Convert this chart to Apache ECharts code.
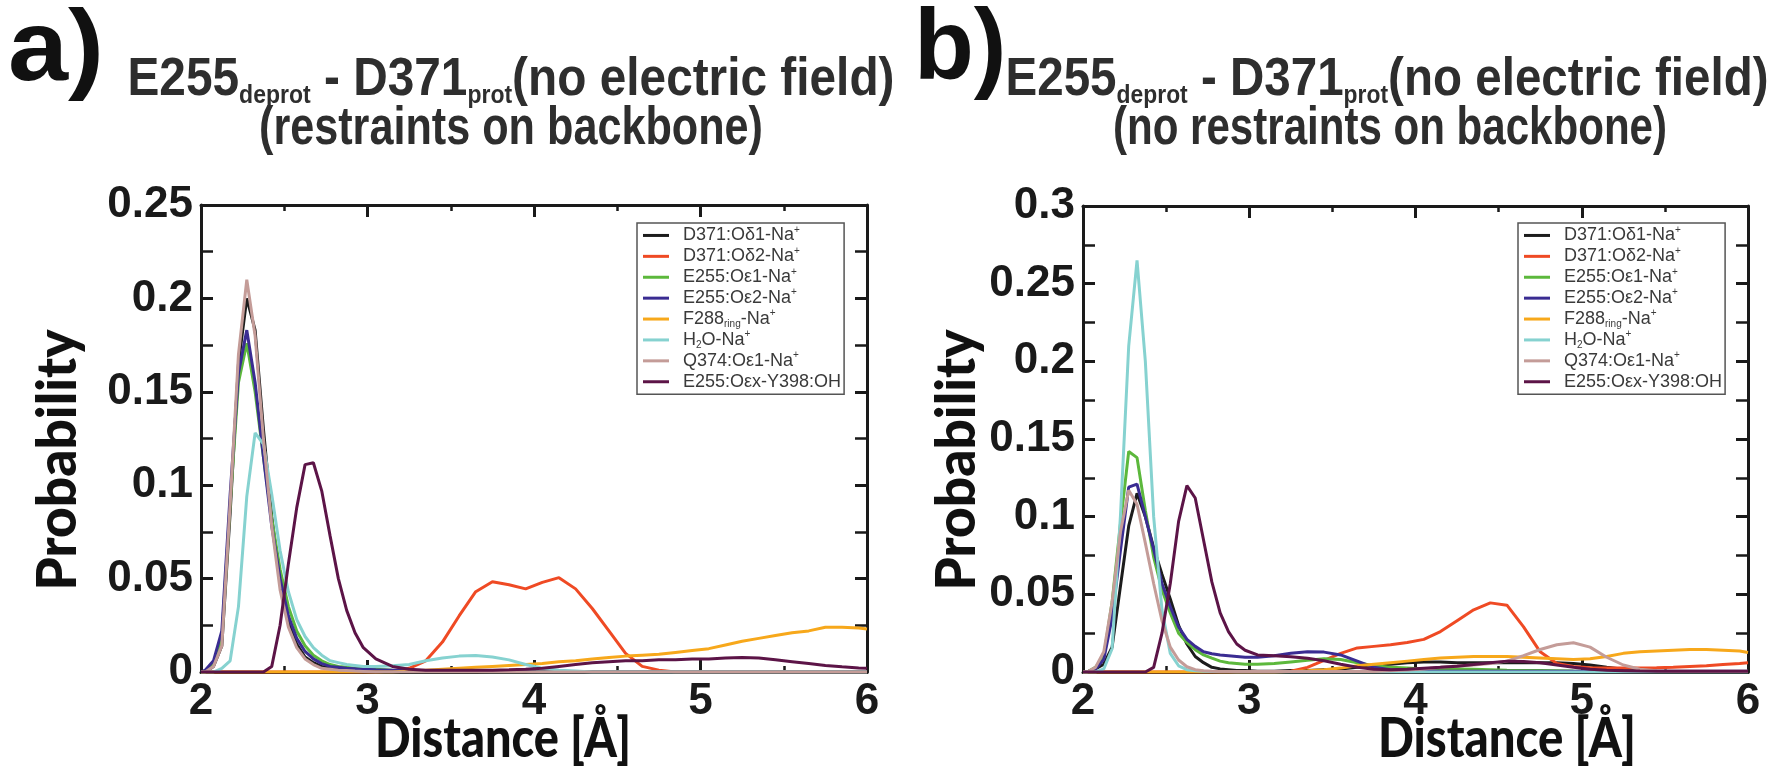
<!DOCTYPE html>
<html>
<head>
<meta charset="utf-8">
<script src="https://cdn.jsdelivr.net/npm/echarts/dist/echarts.min.js"></script>
<style>
  html, body { margin: 0; padding: 0; background: #ffffff; }
  #chart { width: 1781px; height: 776px; }
</style>
</head>
<body>
<div id="chart"></div>
<script>
// ---------------- data ----------------
const xs = [2.0, 2.025, 2.075, 2.125, 2.175, 2.225, 2.275, 2.325, 2.375, 2.425, 2.475, 2.525, 2.575, 2.625, 2.675, 2.725, 2.775, 2.825, 2.875, 2.925, 2.975,
  3.05, 3.15, 3.25, 3.35, 3.45, 3.55, 3.65, 3.75, 3.85, 3.95, 4.05, 4.15, 4.25, 4.35, 4.45, 4.55, 4.65, 4.75, 4.85, 4.95,
  5.05, 5.15, 5.25, 5.35, 5.45, 5.55, 5.65, 5.75, 5.85, 5.95, 6.0];

const seriesNames = ['D371:Oδ1-Na+', 'D371:Oδ2-Na+', 'E255:Oε1-Na+', 'E255:Oε2-Na+', 'F288ring-Na+', 'H2O-Na+', 'Q374:Oε1-Na+', 'E255:Oεx-Y398:OH'];
const legendLabels = ['D371:Oδ1-Na{sup|+}', 'D371:Oδ2-Na{sup|+}', 'E255:Oε1-Na{sup|+}', 'E255:Oε2-Na{sup|+}', 'F288{sub|ring}-Na{sup|+}', 'H{sub|2}O-Na{sup|+}', 'Q374:Oε1-Na{sup|+}', 'E255:Oεx-Y398:OH'];
const seriesColors = ['#1c1c1c', '#ef4a24', '#5cb83c', '#3a2c92', '#f7a81b', '#86d2d0', '#c49c98', '#5c1447'];

const yMaxA = 0.25, yMaxB = 0.3;

// panel a (restraints on backbone)
const aBlack = [0, 0, 0.003, 0.014, 0.085, 0.165, 0.2, 0.183, 0.13, 0.083, 0.048, 0.027, 0.015, 0.008, 0.005, 0.003, 0.002, 0.0015, 0.001, 0.0008, 0.0005,
  0.0004, 0.0003, 0.0003, 0.0002, 0.0002, 0.0002, 0.0001, 0.0001, 0.0001, 0.0001, 0, 0, 0, 0, 0, 0, 0, 0, 0, 0, 0, 0, 0, 0, 0, 0, 0, 0, 0, 0, 0];
const aRed = [0, 0, 0, 0, 0, 0, 0, 0, 0, 0, 0, 0, 0, 0, 0, 0, 0, 0, 0, 0, 0,
  0, 0.0005, 0.002, 0.006, 0.016, 0.03, 0.043, 0.0483, 0.0467, 0.0445, 0.048, 0.0505, 0.0445, 0.034, 0.022, 0.01, 0.003, 0.001, 0, 0, 0, 0, 0, 0, 0, 0, 0, 0, 0, 0, 0];
const aGreen = [0, 0, 0.004, 0.018, 0.09, 0.155, 0.176, 0.15, 0.115, 0.082, 0.055, 0.035, 0.022, 0.014, 0.009, 0.006, 0.004, 0.003, 0.0025, 0.002, 0.0018,
  0.0015, 0.001, 0.0008, 0.0006, 0.0005, 0.0004, 0.0003, 0.0002, 0.0002, 0.0001, 0, 0, 0, 0, 0, 0, 0, 0, 0, 0, 0, 0, 0, 0, 0, 0, 0, 0, 0, 0, 0];
const aBlue = [0, 0.001, 0.006, 0.022, 0.095, 0.16, 0.183, 0.155, 0.115, 0.078, 0.05, 0.03, 0.018, 0.011, 0.007, 0.0045, 0.003, 0.0025, 0.002, 0.0018, 0.0015,
  0.0012, 0.001, 0.001, 0.0008, 0.0006, 0.0004, 0.0003, 0.0002, 0.0001, 0.0001, 0, 0, 0, 0, 0, 0, 0, 0, 0, 0, 0, 0, 0, 0, 0, 0, 0, 0, 0, 0, 0];
const aOrange = [0, 0, 0, 0, 0, 0, 0, 0, 0, 0, 0, 0, 0, 0, 0, 0, 0, 0, 0, 0, 0,
  0, 0, 0.0005, 0.001, 0.0015, 0.002, 0.0025, 0.003, 0.0035, 0.004, 0.0045, 0.0055, 0.006, 0.007, 0.0078, 0.0085, 0.009, 0.0095, 0.0105, 0.0115,
  0.0125, 0.0145, 0.0165, 0.018, 0.0195, 0.021, 0.022, 0.024, 0.024, 0.0235, 0.023];
const aCyan = [0, 0, 0, 0.002, 0.006, 0.035, 0.094, 0.128, 0.122, 0.095, 0.065, 0.043, 0.028, 0.019, 0.013, 0.009, 0.006, 0.005, 0.004, 0.0035, 0.003,
  0.003, 0.0033, 0.004, 0.006, 0.0075, 0.0085, 0.0088, 0.008, 0.0065, 0.004, 0.002, 0.001, 0.0005, 0, 0, 0, 0, 0, 0, 0, 0, 0, 0, 0, 0, 0, 0, 0, 0, 0, 0];
const aBrown = [0, 0, 0.003, 0.014, 0.09, 0.17, 0.21, 0.18, 0.125, 0.078, 0.044, 0.024, 0.013, 0.007, 0.004, 0.002, 0.0015, 0.001, 0.0008, 0.0005, 0.0003,
  0, 0, 0, 0, 0, 0, 0, 0, 0, 0, 0, 0, 0, 0, 0, 0, 0, 0, 0, 0, 0, 0, 0, 0, 0, 0, 0, 0, 0, 0, 0];
const aPurple = [0, 0, 0, 0, 0, 0, 0, 0, 0, 0.003, 0.025, 0.058, 0.088, 0.111, 0.112, 0.097, 0.073, 0.05, 0.033, 0.021, 0.013,
  0.007, 0.003, 0.0015, 0.001, 0.001, 0.001, 0.001, 0.001, 0.0012, 0.0015, 0.002, 0.003, 0.004, 0.005, 0.0055, 0.006, 0.006, 0.0065, 0.0065, 0.007,
  0.007, 0.0075, 0.0077, 0.0075, 0.0065, 0.0055, 0.0045, 0.0035, 0.0028, 0.0022, 0.002];

// panel b (no restraints on backbone)
const bBlack = [0, 0, 0.002, 0.005, 0.016, 0.055, 0.094, 0.115, 0.1, 0.08, 0.063, 0.047, 0.03, 0.018, 0.01, 0.006, 0.003, 0.002, 0.0015, 0.001, 0.001,
  0.0005, 0.0005, 0.001, 0.001, 0.0015, 0.002, 0.003, 0.004, 0.005, 0.006, 0.0065, 0.0065, 0.006, 0.006, 0.006, 0.006, 0.006, 0.006, 0.006, 0.0055,
  0.0045, 0.003, 0.0018, 0.001, 0.0005, 0.0003, 0.0003, 0.0003, 0.0003, 0.0003, 0.0003];
const bRed = [0, 0, 0, 0, 0, 0, 0, 0, 0, 0, 0, 0, 0, 0, 0, 0, 0, 0, 0, 0, 0,
  0, 0, 0.0005, 0.003, 0.0075, 0.012, 0.0155, 0.0165, 0.0175, 0.019, 0.021, 0.026, 0.033, 0.04, 0.0445, 0.043, 0.029, 0.013, 0.0055, 0.0035,
  0.0028, 0.0025, 0.0025, 0.0025, 0.0027, 0.003, 0.0035, 0.004, 0.0048, 0.0055, 0.006];
const bGreen = [0, 0, 0.003, 0.01, 0.045, 0.095, 0.142, 0.138, 0.104, 0.074, 0.053, 0.038, 0.025, 0.019, 0.0144, 0.011, 0.0089, 0.007, 0.006, 0.0055, 0.005,
  0.005, 0.0055, 0.0065, 0.0075, 0.0085, 0.008, 0.006, 0.004, 0.003, 0.0025, 0.002, 0.002, 0.002, 0.0018, 0.0015, 0.0012, 0.001, 0.001, 0.0008, 0.0006,
  0.0005, 0.0003, 0.0003, 0.0003, 0.0003, 0.0003, 0.0003, 0.0003, 0.0003, 0.0003, 0.0003];
const bBlue = [0, 0, 0.002, 0.008, 0.035, 0.078, 0.119, 0.121, 0.1, 0.079, 0.057, 0.042, 0.029, 0.021, 0.0165, 0.013, 0.0118, 0.011, 0.0105, 0.01, 0.0095,
  0.0095, 0.0105, 0.012, 0.013, 0.0128, 0.011, 0.007, 0.003, 0.0015, 0.001, 0.0008, 0.0005, 0.0005, 0.0005, 0.0005, 0.0005, 0.0005, 0.0005, 0.0005, 0.0005,
  0.0005, 0.0005, 0.0005, 0.0005, 0.0005, 0.0005, 0.0005, 0.0005, 0.0005, 0.0005, 0.0005];
const bOrange = [0, 0, 0, 0, 0, 0, 0, 0, 0, 0, 0, 0, 0, 0, 0, 0, 0, 0, 0, 0, 0,
  0, 0, 0.0003, 0.0008, 0.0015, 0.0025, 0.004, 0.005, 0.006, 0.007, 0.008, 0.009, 0.0095, 0.01, 0.01, 0.01, 0.0095, 0.009, 0.0085, 0.008,
  0.0085, 0.01, 0.012, 0.013, 0.0135, 0.014, 0.0145, 0.0145, 0.014, 0.0135, 0.0125];
const bCyan = [0, 0, 0, 0.002, 0.015, 0.1, 0.21, 0.265, 0.2, 0.1, 0.04, 0.012, 0.004, 0.0015, 0.0008, 0.0005, 0.0003, 0.0002, 0.0001, 0, 0,
  0, 0, 0, 0, 0, 0, 0, 0, 0, 0, 0, 0, 0, 0, 0, 0, 0, 0, 0, 0, 0, 0, 0, 0, 0, 0, 0, 0, 0, 0, 0];
const bBrown = [0, 0, 0.003, 0.013, 0.045, 0.09, 0.117, 0.108, 0.083, 0.057, 0.033, 0.016, 0.0077, 0.0034, 0.0015, 0.0008, 0.0005, 0.0003, 0.0003, 0.0003, 0.0003,
  0.0003, 0.0003, 0.0003, 0.0003, 0.0003, 0.0003, 0.0003, 0.0003, 0.0008, 0.0013, 0.002, 0.003, 0.0038, 0.0045, 0.0055, 0.007, 0.0105, 0.0145, 0.0175, 0.0188,
  0.016, 0.0095, 0.0045, 0.0018, 0.0008, 0.0005, 0.0005, 0.0005, 0.0005, 0.0005, 0.0005];
const bPurple = [0, 0, 0, 0, 0, 0, 0, 0, 0, 0.003, 0.025, 0.057, 0.097, 0.12, 0.112, 0.085, 0.058, 0.038, 0.026, 0.018, 0.014,
  0.011, 0.0105, 0.0098, 0.0088, 0.0072, 0.005, 0.003, 0.0018, 0.0014, 0.0018, 0.0024, 0.003, 0.0037, 0.0048, 0.006, 0.007, 0.0068, 0.006, 0.0045, 0.003,
  0.0018, 0.0012, 0.0008, 0.0006, 0.0005, 0.0005, 0.0005, 0.0005, 0.0005, 0.0005, 0.0005];

const panelA = [aBlack, aRed, aGreen, aBlue, aOrange, aCyan, aBrown, aPurple];
const panelB = [bBlack, bRed, bGreen, bBlue, bOrange, bCyan, bBrown, bPurple];

// ---------------- chart ----------------
const chart = echarts.init(document.getElementById('chart'), null, { renderer: 'canvas' });

const mctx = document.createElement('canvas').getContext('2d');
function tw(text, font) { mctx.font = font; return mctx.measureText(text).width; }

const AX = '#1a1a1a';
const tickFont = { fontFamily: '"Liberation Sans", Arial, sans-serif', fontWeight: 'bold', fontSize: 44, color: '#1a1a1a' };

function xAxisFor(grid, pos, showLabel) {
  return {
    type: 'value', gridIndex: grid, position: pos, min: 2, max: 6, interval: 1,
    axisLine: { show: true, onZero: false, lineStyle: { color: AX, width: 3 } },
    axisTick: { show: true, inside: true, length: 12, lineStyle: { color: AX, width: 3 } },
    minorTick: { show: true, splitNumber: 2, length: 6, lineStyle: { color: AX, width: 2.5 } },
    splitLine: { show: false },
    axisLabel: Object.assign({ show: showLabel, margin: 8 }, tickFont)
  };
}
function yAxisFor(grid, pos, max, showLabel) {
  return {
    type: 'value', gridIndex: grid, position: pos, min: 0, max: max, interval: 0.05,
    axisLine: { show: true, onZero: false, lineStyle: { color: AX, width: 3 } },
    axisTick: { show: true, inside: true, length: 12, lineStyle: { color: AX, width: 3 } },
    minorTick: { show: true, splitNumber: 2, length: 12, lineStyle: { color: AX, width: 2.5 } },
    splitLine: { show: false },
    axisLabel: Object.assign({ show: showLabel, margin: 8 }, tickFont)
  };
}

const series = [];
[panelA, panelB].forEach((panel, p) => {
  panel.forEach((vals, i) => {
    series.push({
      type: 'line', name: seriesNames[i],
      xAxisIndex: p * 2, yAxisIndex: p * 2,
      data: xs.map((x, k) => [x, vals[k]]),
      symbol: 'none', showSymbol: false,
      lineStyle: { color: seriesColors[i], width: 3 },
      itemStyle: { color: seriesColors[i] },
      z: 2 + i
    });
  });
});

const legendBase = {
  orient: 'vertical', icon: 'rect', itemWidth: 26, itemHeight: 3, itemGap: 0,
  padding: [2, 3, 2, 6],
  borderColor: '#555', borderWidth: 1.5, backgroundColor: '#fff',
  data: seriesNames,
  formatter: (name) => '{g| }' + legendLabels[seriesNames.indexOf(name)],
  textStyle: {
    fontFamily: '"Liberation Sans", Arial, sans-serif', fontSize: 18, color: '#3a3a3a', lineHeight: 20.9,
    rich: {
      g: { width: 9, fontSize: 18, lineHeight: 20.9 },
      sup: { fontSize: 10, verticalAlign: 'top', lineHeight: 10 },
      sub: { fontSize: 10, verticalAlign: 'bottom', lineHeight: 10 }
    }
  },
  selectedMode: false
};

// ---- titles (condensed bold, fitted to the reference widths) ----
const TF = '"Liberation Sans", Arial, sans-serif';
const mainSize = 54, subSize = 26;
const mainFont = 'bold ' + mainSize + 'px ' + TF, subFont = 'bold ' + subSize + 'px ' + TF;
const titleRich = {
  m: { fontFamily: TF, fontWeight: 'bold', fontSize: mainSize, lineHeight: 58, fill: '#2e2e2e' },
  s: { fontFamily: TF, fontWeight: 'bold', fontSize: subSize, lineHeight: 22, verticalAlign: 'bottom', fill: '#2e2e2e' }
};
function titleText(x, y, parts, targetW) {
  let w = 0, txt = '';
  parts.forEach(([k, t]) => { w += tw(t, k === 'm' ? mainFont : subFont); txt += '{' + k + '|' + t + '}'; });
  return { type: 'text', x: x, y: y, scaleX: targetW / w,
    style: { text: txt, rich: titleRich, align: 'center', verticalAlign: 'middle', fill: '#2e2e2e' } };
}
function fitText(x, y, text, font, targetW, rot) {
  return { type: 'text', x: x, y: y, rotation: rot || 0, scaleX: targetW / tw(text, font),
    style: { text: text, font: font, fill: '#111', align: 'center', verticalAlign: 'middle' } };
}
function panelText(x, y, text, sx) {
  return { type: 'text', x: x, y: y, scaleX: sx,
    style: { text: text, font: 'bold 100px ' + TF, fill: '#111', align: 'left', verticalAlign: 'middle' } };
}
const line1 = [['m', 'E255'], ['s', 'deprot'], ['m', ' - D371'], ['s', 'prot'], ['m', '(no electric field)']];
const probFont = '900 56px Lato, "Open Sans", sans-serif';
const distFont = '900 55px Lato, "Open Sans", sans-serif';

const option = {
  animation: false,
  backgroundColor: '#ffffff',
  grid: [
    { left: 201, top: 205, width: 666, height: 467, containLabel: false },
    { left: 1083, top: 206, width: 665, height: 466, containLabel: false }
  ],
  xAxis: [xAxisFor(0, 'bottom', true), xAxisFor(0, 'top', false), xAxisFor(1, 'bottom', true), xAxisFor(1, 'top', false)],
  yAxis: [yAxisFor(0, 'left', yMaxA, true), yAxisFor(0, 'right', yMaxA, false), yAxisFor(1, 'left', yMaxB, true), yAxisFor(1, 'right', yMaxB, false)],
  legend: [
    Object.assign({ left: 637, top: 223 }, legendBase),
    Object.assign({ left: 1518, top: 223 }, legendBase)
  ],
  series: series,
  graphic: [
    panelText(8, 52, 'a)', 1.08),
    panelText(914, 51, 'b)', 0.98),
    titleText(511, 80, line1, 767),
    titleText(511, 129, [['m', '(restraints on backbone)']], 504),
    titleText(1387, 80, line1, 763),
    titleText(1390, 129, [['m', '(no restraints on backbone)']], 554),
    fitText(58, 460, 'Probability', probFont, 261, Math.PI / 2),
    fitText(957, 460, 'Probability', probFont, 261, Math.PI / 2),
    fitText(503, 739, 'Distance [Å]', distFont, 256, 0),
    fitText(1507, 739, 'Distance [Å]', distFont, 258, 0)
  ]
};
chart.setOption(option);
</script>
</body>
</html>
